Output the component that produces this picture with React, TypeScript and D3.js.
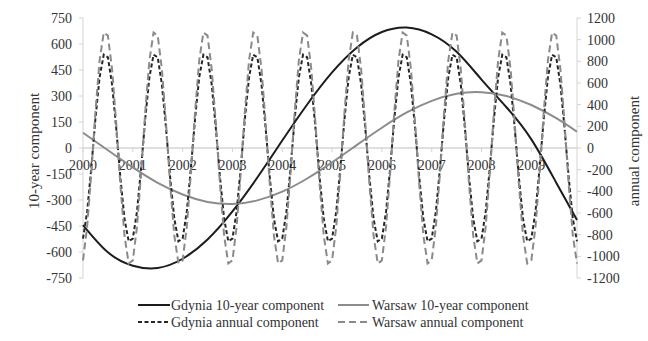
import React from 'react';
import * as d3 from 'd3';

// axis categories / ticks
const yearLabels = ['2000', '2001', '2002', '2003', '2004', '2005', '2006', '2007', '2008', '2009'];
const leftTicks = [-750, -600, -450, -300, -150, 0, 150, 300, 450, 600, 750];
const rightTicks = [-1200, -1000, -800, -600, -400, -200, 0, 200, 400, 600, 800, 1000, 1200];

// 10-year components, read every half year (month index)
const tenYearMonths = [0, 6, 12, 18, 24, 30, 36, 42, 48, 54, 60, 66, 72, 78, 84, 90, 96, 102, 108, 114, 119];
const gdynia10 = [-445, -602, -679, -692, -639, -528, -366, -170, 43, 251, 436, 580, 669, 695, 656, 555, 395, 235, 50, -200, -415];
const warsaw10 = [88, -13, -112, -201, -268, -311, -323, -302, -252, -176, -83, 18, 117, 205, 272, 313, 322, 300, 248, 172, 94];

// annual components, monthly 2000-01 .. 2009-12
const gdyniaAnnual = [
  -837, -588, -183, 272, 654, 861, 837, 588, 183, -272, -654, -861,
  -837, -588, -183, 272, 654, 861, 837, 588, 183, -272, -654, -861,
  -837, -588, -183, 272, 654, 861, 837, 588, 183, -272, -654, -861,
  -837, -588, -183, 272, 654, 861, 837, 588, 183, -272, -654, -861,
  -837, -588, -183, 272, 654, 861, 837, 588, 183, -272, -654, -861,
  -837, -588, -183, 272, 654, 861, 837, 588, 183, -272, -654, -861,
  -837, -588, -183, 272, 654, 861, 837, 588, 183, -272, -654, -861,
  -837, -588, -183, 272, 654, 861, 837, 588, 183, -272, -654, -861,
  -837, -588, -183, 272, 654, 861, 837, 588, 183, -272, -654, -861,
  -837, -588, -183, 272, 654, 861, 837, 588, 183, -272, -654, -861,
];
const warsawAnnual = [
  -1037, -729, -227, 337, 810, 1066, 1037, 729, 227, -337, -810, -1066,
  -1037, -729, -227, 337, 810, 1066, 1037, 729, 227, -337, -810, -1066,
  -1037, -729, -227, 337, 810, 1066, 1037, 729, 227, -337, -810, -1066,
  -1037, -729, -227, 337, 810, 1066, 1037, 729, 227, -337, -810, -1066,
  -1037, -729, -227, 337, 810, 1066, 1037, 729, 227, -337, -810, -1066,
  -1037, -729, -227, 337, 810, 1066, 1037, 729, 227, -337, -810, -1066,
  -1037, -729, -227, 337, 810, 1066, 1037, 729, 227, -337, -810, -1066,
  -1037, -729, -227, 337, 810, 1066, 1037, 729, 227, -337, -810, -1066,
  -1037, -729, -227, 337, 810, 1066, 1037, 729, 227, -337, -810, -1066,
  -1037, -729, -227, 337, 810, 1066, 1037, 729, 227, -337, -810, -1066,
];

const W = 648;
const H = 341;
const font = "'Liberation Serif', 'Times New Roman', serif";
const textColor = '#333';
const axisColor = '#d4d4d4';

const x = d3.scaleLinear().domain([0, 119]).range([83, 577]);
const yL = d3.scaleLinear().domain([-750, 750]).range([278, 18]);
const yR = d3.scaleLinear().domain([-1200, 1200]).range([278, 18]);

const smooth = d3
  .line<number>()
  .x((_, i) => x(tenYearMonths[i]))
  .y((d) => yL(d))
  .curve(d3.curveNatural);
const monthly = d3
  .line<number>()
  .x((_, i) => x(i))
  .y((d) => yR(d));

const styles = {
  gdynia10: { stroke: '#1c1c1c', dash: 'none' },
  warsaw10: { stroke: '#8c8c8c', dash: 'none' },
  gdyniaAnn: { stroke: '#262626', dash: '4 2.5' },
  warsawAnn: { stroke: '#8a8a8a', dash: '7 4' },
};

const legend = [
  { label: 'Gdynia 10-year component', st: styles.gdynia10, x0: 138, x1: 170, tx: 171, y: 305 },
  { label: 'Warsaw 10-year component', st: styles.warsaw10, x0: 338, x1: 369, tx: 372, y: 305 },
  { label: 'Gdynia annual component', st: styles.gdyniaAnn, x0: 138, x1: 170, tx: 171, y: 322 },
  { label: 'Warsaw annual component', st: styles.warsawAnn, x0: 338, x1: 369, tx: 372, y: 322 },
];

export default function App() {
  const [x0, x1] = x.range();
  return (
    <svg
      width={W}
      height={H}
      style={{ position: 'absolute', left: 0, top: 0, background: '#fff' }}
      fontFamily={font}
    >
      {/* axes */}
      <line x1={x0} x2={x0} y1={18} y2={278} stroke={axisColor} />
      <line x1={x1} x2={x1} y1={18} y2={278} stroke={axisColor} />
      <line x1={x0} x2={x1} y1={yL(0)} y2={yL(0)} stroke={axisColor} strokeWidth={1.5} />
      {leftTicks.map((t) => (
        <g key={'l' + t}>
          <line x1={x0 - 4} x2={x0} y1={yL(t)} y2={yL(t)} stroke={axisColor} />
          <text x={72} y={yL(t)} dy="0.35em" textAnchor="end" fontSize={14} fill={textColor}>
            {t}
          </text>
        </g>
      ))}
      {rightTicks.map((t) => (
        <g key={'r' + t}>
          <line x1={x1} x2={x1 + 4} y1={yR(t)} y2={yR(t)} stroke={axisColor} />
          <text x={587} y={yR(t)} dy="0.35em" textAnchor="start" fontSize={14} fill={textColor}>
            {t}
          </text>
        </g>
      ))}
      {yearLabels.map((lab, i) => (
        <g key={lab}>
          <line x1={x(i * 12)} x2={x(i * 12)} y1={yL(0)} y2={yL(0) + 4} stroke={axisColor} />
          <text x={x(i * 12)} y={165} dy="0.35em" textAnchor="middle" fontSize={14} fill={textColor}>
            {lab}
          </text>
        </g>
      ))}
      <text
        transform={`translate(34,151) rotate(-90)`}
        textAnchor="middle"
        dy="0.35em"
        fontSize={15}
        fill={textColor}
      >
        10-year component
      </text>
      <text
        transform={`translate(634,151) rotate(-90)`}
        textAnchor="middle"
        dy="0.35em"
        fontSize={15}
        fill={textColor}
      >
        annual component
      </text>

      {/* series */}
      <path d={smooth(gdynia10) || ''} fill="none" stroke={styles.gdynia10.stroke} strokeWidth={2} />
      <path d={smooth(warsaw10) || ''} fill="none" stroke={styles.warsaw10.stroke} strokeWidth={2} />
      <path
        d={monthly(gdyniaAnnual) || ''}
        fill="none"
        stroke={styles.gdyniaAnn.stroke}
        strokeWidth={2}
        strokeDasharray={styles.gdyniaAnn.dash}
      />
      <path
        d={monthly(warsawAnnual) || ''}
        fill="none"
        stroke={styles.warsawAnn.stroke}
        strokeWidth={2}
        strokeDasharray={styles.warsawAnn.dash}
      />

      {/* legend */}
      {legend.map((l) => (
        <g key={l.label}>
          <line
            x1={l.x0}
            x2={l.x1}
            y1={l.y}
            y2={l.y}
            stroke={l.st.stroke}
            strokeWidth={2}
            strokeDasharray={l.st.dash}
          />
          <text x={l.tx} y={l.y} dy="0.35em" fontSize={14} fill={textColor}>
            {l.label}
          </text>
        </g>
      ))}
    </svg>
  );
}
